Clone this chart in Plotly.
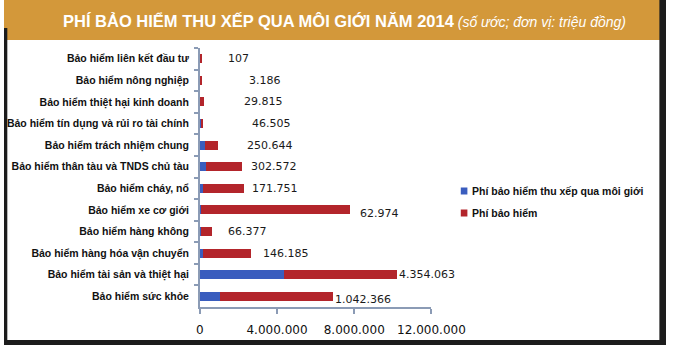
import plotly.graph_objects as go

# Insurance lines (top to bottom)
categories = [
    "Bảo hiểm liên kết đầu tư",
    "Bảo hiểm nông nghiệp",
    "Bảo hiểm thiệt hại kinh doanh",
    "Bảo hiểm tín dụng và rủi ro tài chính",
    "Bảo hiểm trách nhiệm chung",
    "Bảo hiểm thân tàu và TNDS chủ tàu",
    "Bảo hiểm cháy, nổ",
    "Bảo hiểm xe cơ giới",
    "Bảo hiểm hàng không",
    "Bảo hiểm hàng hóa vận chuyển",
    "Bảo hiểm tài sản và thiệt hại",
    "Bảo hiểm sức khỏe",
]

# Premiums arranged through brokers (million VND)
broker_fees = [107, 3186, 29815, 46505, 250644, 302572, 171751,
               62974, 66377, 146185, 4354063, 1042366]

# Remaining premium stacked after the brokered part (million VND)
premiums = [70000, 80000, 170000, 130000, 680000, 1860000, 2130000,
            7720000, 570000, 2510000, 5870000, 5860000]

value_labels = ["107", "3.186", "29.815", "46.505", "250.644", "302.572",
                "171.751", "62.974", "66.377", "146.185", "4.354.063",
                "1.042.366"]

x_ticks = [0, 4000000, 8000000, 12000000]
x_tick_text = ["0", "4.000.000", "8.000.000", "12.000.000"]

legend_names = ["Phí bảo hiểm thu xếp qua môi giới", "Phí bảo hiểm"]

BLUE = "#3A5DBE"
RED = "#B3252B"
AXIS = "#8B9BB5"
GOLD = "#D3983A"
LABEL_FONT = dict(family="Liberation Sans, Arial", size=10.5, color="#111",
                  weight="bold")

W, H = 700, 345

fig = go.Figure()
fig.add_trace(go.Bar(y=categories, x=broker_fees, orientation="h",
                     name=legend_names[0], marker=dict(color=BLUE, line_width=0)))
fig.add_trace(go.Bar(y=categories, x=premiums, orientation="h",
                     name=legend_names[1], marker=dict(color=RED, line_width=0)))

# label placement tweaks (pixels) relative to the bar end
label_dx = [25, 46, 38, 47, 27, 7, 6, 8, 14, 10, 0, 0]
label_dy = [0, 0, 0, 0, 0, 0, 0, -4, 0, 0, 0, -3]

annotations = []
for cat, b, p, txt, dx, dy in zip(categories, broker_fees, premiums,
                                  value_labels, label_dx, label_dy):
    annotations.append(dict(
        x=b + p, y=cat, xref="x", yref="y", text=txt, showarrow=False,
        xanchor="left", yanchor="middle", xshift=dx, yshift=dy,
        font=dict(family="DejaVu Sans", size=11, color="#1a1a1a")))

# title banner text
annotations.append(dict(
    x=60 / W, y=1 - 21 / H, xref="paper", yref="paper", xanchor="left",
    yanchor="middle", showarrow=False,
    text="<b>PHÍ BẢO HIỂM THU XẾP QUA MÔI GIỚI NĂM 2014</b>"
         "<i><span style='font-size:14px'> (số ước; đơn vị: triệu đồng)</span></i>",
    font=dict(family="Liberation Sans, Arial", size=16.5, color="white")))

shapes = [
    # banner
    dict(type="rect", xref="paper", yref="paper", x0=0, x1=1,
         y0=1 - 40 / H, y1=1, fillcolor=GOLD, line_width=0, layer="below"),
    # dark frame edges
    dict(type="rect", xref="paper", yref="paper", x0=0, x1=3.5 / W,
         y0=0, y1=1 - 28 / H, fillcolor="#1c1c1c", line_width=0),
    dict(type="rect", xref="paper", yref="paper", x0=1 - 7 / W, x1=1,
         y0=0, y1=1, fillcolor="#1c1c1c", line_width=0),
    dict(type="rect", xref="paper", yref="paper", x0=0, x1=1,
         y0=0, y1=5 / H, fillcolor="#1c1c1c", line_width=0),
]

# legend drawn as swatches + text
for i, (name, col) in enumerate(zip(legend_names, [BLUE, RED])):
    yc = 191 + 22 * i
    shapes.append(dict(type="rect", xref="paper", yref="paper",
                       x0=483 / W, x1=490 / W, y0=1 - (yc + 3.5) / H,
                       y1=1 - (yc - 3.5) / H, fillcolor=col, line_width=0))
    annotations.append(dict(
        x=493 / W, y=1 - yc / H, xref="paper", yref="paper", xanchor="left",
        yanchor="middle", showarrow=False, text=name, font=LABEL_FONT))

fig.update_layout(
    width=W, height=H, barmode="stack", bargap=0.58, showlegend=False,
    margin=dict(l=0, r=0, t=0, b=0),
    paper_bgcolor="white", plot_bgcolor="white",
    annotations=annotations, shapes=shapes,
    xaxis=dict(domain=[207 / W, 452 / W], range=[0, 12000000],
               tickvals=x_ticks, ticktext=x_tick_text, showgrid=False,
               zeroline=False, showline=True, linecolor=AXIS, linewidth=1.5,
               ticks="outside", ticklen=5, tickcolor=AXIS, tickwidth=1.5,
               ticklabelstandoff=6,
               tickfont=dict(family="DejaVu Sans", size=12, color="#111")),
    yaxis=dict(domain=[(H - 307) / H, (H - 48) / H], autorange="reversed",
               showgrid=False, zeroline=False, showline=True, linecolor=AXIS,
               linewidth=1.5, ticks="outside", tickson="boundaries",
               ticklen=4, tickcolor=AXIS, tickwidth=1.5, ticklabelstandoff=7,
               tickfont=LABEL_FONT),
)

fig.write_html("out.html")
